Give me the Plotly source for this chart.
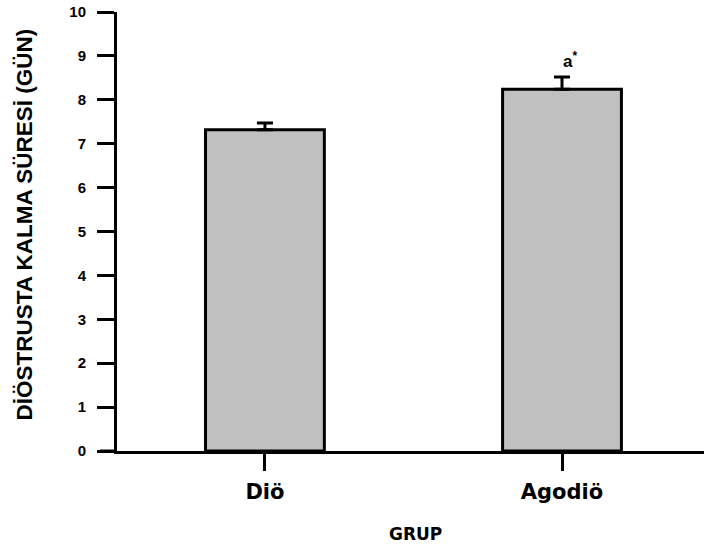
import plotly.graph_objects as go

# Mean duration spent in diestrus (days) per group, with SEM
groups = ["Diö", "Agodiö"]
means = [7.32, 8.24]
sem = [0.15, 0.28]
y_ticks = [0, 1, 2, 3, 4, 5, 6, 7, 8, 9, 10]

fig = go.Figure()
fig.add_trace(go.Bar(
    x=groups,
    y=means,
    width=0.4,
    marker=dict(color="#c0c0c0", line=dict(color="black", width=3)),
    error_y=dict(type="data", symmetric=False, array=sem,
                 arrayminus=[0] * len(sem),
                 color="black", thickness=3, width=8),
    showlegend=False,
))

fig.update_layout(
    width=704, height=554,
    margin=dict(l=117, r=0, t=12, b=103),
    paper_bgcolor="white", plot_bgcolor="white",
    font=dict(family="Arial, Liberation Sans", color="black"),
    xaxis=dict(
        range=[-0.498, 1.478],
        showline=True, linecolor="black", linewidth=3,
        ticks="outside", ticklen=17, tickwidth=3, tickcolor="black",
        tickfont=dict(family="DejaVu Sans", size=21, color="black", weight="bold"),
        ticklabelstandoff=3,
        showgrid=False, zeroline=False,
    ),
    yaxis=dict(
        range=[0, 10],
        tickvals=y_ticks,
        showline=True, linecolor="black", linewidth=3,
        ticks="outside", ticklen=17, tickwidth=3, tickcolor="black",
        tickfont=dict(family="Arial, Liberation Sans", size=15, color="black", weight="bold"),
        ticklabelstandoff=8,
        showgrid=False, zeroline=False,
    ),
    shapes=[
        # x-axis line continues a little to the left of the y axis
        dict(type="line", xref="paper", yref="y",
             x0=-17 / 587, x1=0, y0=0, y1=0,
             line=dict(color="black", width=3)),
    ],
    annotations=[
        dict(text="DİÖSTRUSTA KALMA SÜRESİ (GÜN)", textangle=-90,
             xref="paper", yref="paper", x=-93 / 587, y=0.516,
             xanchor="center", yanchor="middle", showarrow=False,
             font=dict(family="Arial, Liberation Sans", size=22.5, color="black", weight="bold")),
        dict(text="GRUP", xref="paper", yref="paper",
             x=0.509, y=-0.19, xanchor="center", yanchor="middle",
             showarrow=False,
             font=dict(family="DejaVu Sans", size=17, color="black", weight="bold")),
        dict(text="a<sup>*</sup>", xref="x", yref="y",
             x="Agodiö", y=8.9, xanchor="left", yanchor="middle",
             xshift=-1, showarrow=False,
             font=dict(family="Arial, Liberation Sans", size=17, color="black", weight="bold")),
    ],
)

fig.write_html("out.html")
